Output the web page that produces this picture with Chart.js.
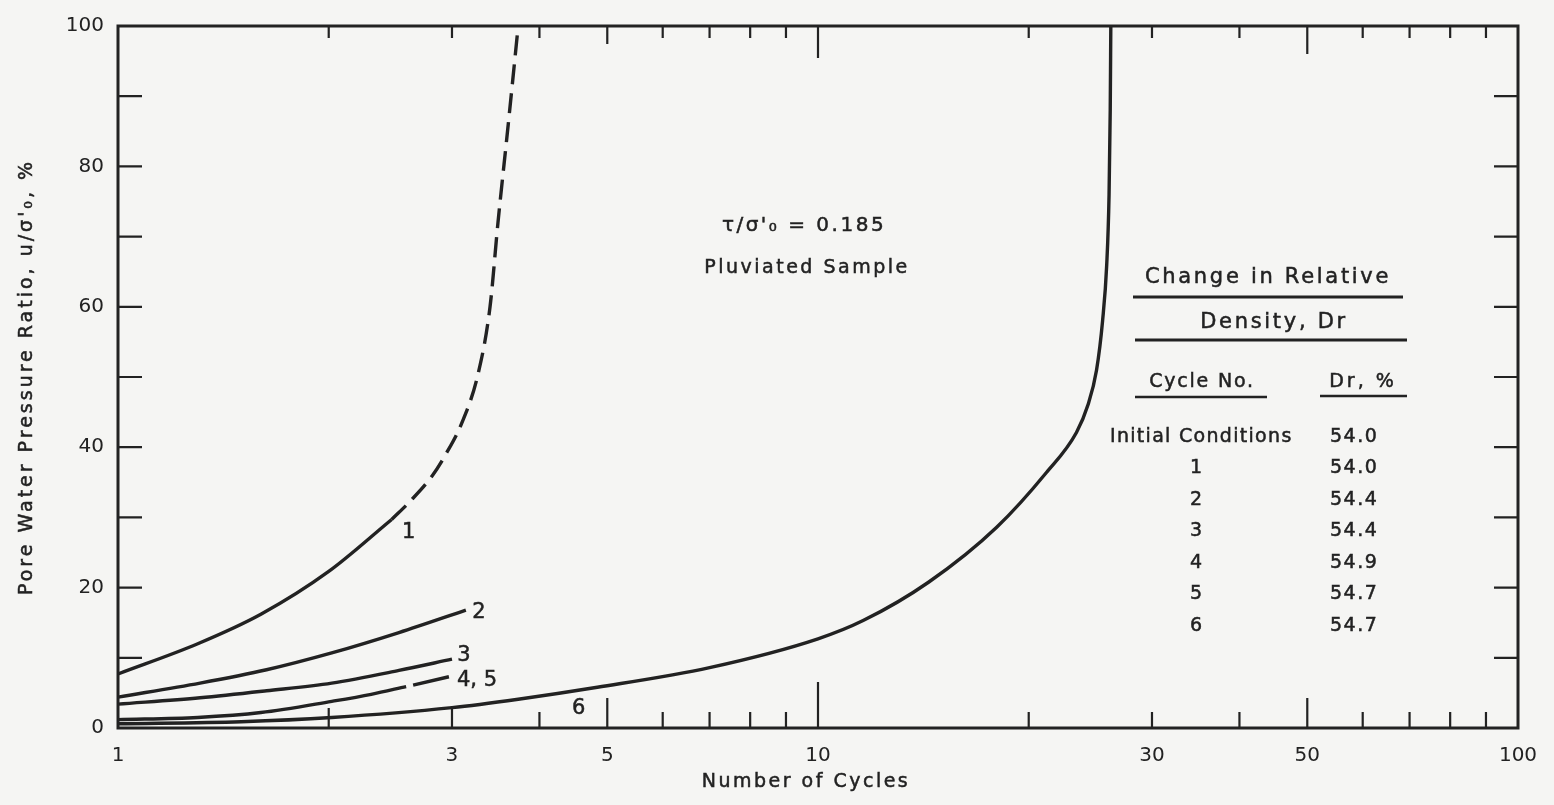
<!DOCTYPE html>
<html>
<head>
<meta charset="utf-8">
<script src="https://cdn.jsdelivr.net/npm/chart.js@4/dist/chart.umd.min.js"></script>
<style>
  html, body { margin: 0; padding: 0; background: #f5f5f3; }
  #wrap { width: 1554px; height: 805px; }
  canvas { display: block; }
</style>
</head>
<body>
<div id="wrap"><canvas id="c" width="1554" height="805"></canvas></div>
<script>
// ---------- data ----------
const xLabelValues = [1, 3, 5, 10, 30, 50, 100];
const xTickValues  = [2, 3, 4, 5, 6, 7, 8, 9, 10, 20, 30, 40, 50, 60, 70, 80, 90];
const yLabelValues = [0, 20, 40, 60, 80, 100];
const yTickValues  = [10, 20, 30, 40, 50, 60, 70, 80, 90];

// Cycle 1 (solid part, then dashed part)
const cycle1SolidX = [1, 1.3, 1.6, 2.0, 2.46];
const cycle1SolidY = [7.7, 12, 16.2, 22.3, 29.7];
const cycle1DashX  = [2.46, 2.62, 2.81, 2.94, 3.1, 3.27, 3.4, 3.49, 3.61, 3.73];
const cycle1DashY  = [29.7, 32.4, 35.9, 39, 43.5, 50.5, 60, 72, 86, 100];
// Cycle 2
const cycle2X = [1, 1.31, 1.63, 2.02, 2.52, 3.14];
const cycle2Y = [4.4, 6.4, 8.3, 10.7, 13.6, 16.8];
// Cycle 3
const cycle3X = [1, 1.31, 1.63, 2.02, 2.52, 3.0];
const cycle3Y = [3.4, 4.3, 5.3, 6.4, 8.2, 9.8];
// Cycles 4,5 (null = break in the drawn line)
const cycle45X = [1, 1.3, 1.6, 2.02, 2.3, 2.58, 2.61, 2.64, 2.97];
const cycle45Y = [1.2, 1.5, 2.2, 3.8, 4.8, 5.9, null, 6.1, 7.3];
// Cycle 6
const cycle6X = [1, 1.5, 2.02, 3, 3.73, 4.84, 7, 10, 11.6, 14.4, 18, 21.2, 23.4, 24.3, 25.0, 25.5, 25.85, 26.05, 26.15, 26.2];
const cycle6Y = [0.6, 0.9, 1.5, 2.9, 4.1, 5.8, 8.6, 12.7, 15.3, 20.8, 28.6, 36.4, 42.1, 46, 51, 58, 66, 76, 88, 100];

// Table: change in relative density
const tableCycles = ['Initial Conditions', '1', '2', '3', '4', '5', '6'];
const tableDr     = ['54.0', '54.0', '54.4', '54.4', '54.9', '54.7', '54.7'];

const pts = (xs, ys) => xs.map((x, i) => ({ x: x, y: ys[i] }));

// ---------- drawing helpers ----------
const INK = '#222222';
const FONT = '"DejaVu Sans", "Liberation Sans", sans-serif';

function drawText(ctx, s, x, y, size, align, spacing, rotate) {
  ctx.save();
  ctx.font = size + 'px ' + FONT;
  ctx.letterSpacing = (spacing || 0) + 'px';
  ctx.fillStyle = INK;
  ctx.strokeStyle = INK;
  ctx.lineWidth = 0.5;
  ctx.textAlign = align || 'center';
  ctx.textBaseline = 'middle';
  if (rotate) {
    ctx.translate(x, y);
    ctx.rotate(-Math.PI / 2);
    ctx.fillText(s, 0, 0);
    ctx.strokeText(s, 0, 0);
  } else {
    ctx.fillText(s, x, y);
    ctx.strokeText(s, x, y);
  }
  ctx.restore();
}
function hline(ctx, x1, x2, y, w) {
  ctx.save();
  ctx.strokeStyle = INK; ctx.lineWidth = w || 2.5;
  ctx.beginPath(); ctx.moveTo(x1, y); ctx.lineTo(x2, y); ctx.stroke();
  ctx.restore();
}

function bottomTickLen(v) {
  if (v === 10) return 46;
  if (v === 5 || v === 50) return 30;
  if (v === 2 || v === 3) return 20;
  return 16;
}
function topTickLen(v) {
  if (v === 10) return 32;
  if (v === 50) return 28;
  if (v === 5) return 18;
  return 12;
}

const framePlugin = {
  id: 'frame',
  afterDraw(chart) {
    const ctx = chart.ctx;
    const a = chart.chartArea;
    const xs = chart.scales.x, ys = chart.scales.y;

    // box
    ctx.save();
    ctx.strokeStyle = INK;
    ctx.lineWidth = 3;
    ctx.strokeRect(a.left, a.top, a.right - a.left, a.bottom - a.top);

    // inward ticks
    ctx.lineWidth = 2.2;
    ctx.beginPath();
    xTickValues.forEach(v => {
      const px = xs.getPixelForValue(v);
      ctx.moveTo(px, a.bottom); ctx.lineTo(px, a.bottom - bottomTickLen(v));
      ctx.moveTo(px, a.top);    ctx.lineTo(px, a.top + topTickLen(v));
    });
    yTickValues.forEach(v => {
      const py = ys.getPixelForValue(v);
      ctx.moveTo(a.left, py);  ctx.lineTo(a.left + 24, py);
      ctx.moveTo(a.right, py); ctx.lineTo(a.right - 24, py);
    });
    ctx.stroke();
    ctx.restore();

    // axis titles
    drawText(ctx, 'Number of Cycles', (a.left + a.right) / 2 - 12, 782, 19, 'center', 2.5);
    drawText(ctx, "Pore Water Pressure Ratio, u/σ'₀, %", 27, (a.top + a.bottom) / 2, 19, 'center', 3, true);

    // annotation
    drawText(ctx, "τ/σ'₀ = 0.185", 804, 226, 20, 'center', 2.5);
    drawText(ctx, 'Pluviated Sample', 807, 268, 19, 'center', 2.5);

    // curve labels
    const P = (x, y) => [xs.getPixelForValue(x), ys.getPixelForValue(y)];
    let p;
    p = P(cycle1SolidX[cycle1SolidX.length - 1], cycle1SolidY[cycle1SolidY.length - 1]);
    drawText(ctx, '1', p[0] + 17, p[1] + 13, 21, 'center', 0);
    p = P(cycle2X[cycle2X.length - 1], cycle2Y[cycle2Y.length - 1]);
    drawText(ctx, '2', p[0] + 13, p[1] + 2, 21, 'center', 0);
    p = P(cycle3X[cycle3X.length - 1], cycle3Y[cycle3Y.length - 1]);
    drawText(ctx, '3', p[0] + 12, p[1] - 4, 21, 'center', 0);
    p = P(cycle45X[cycle45X.length - 1], cycle45Y[cycle45Y.length - 1]);
    drawText(ctx, '4, 5', p[0] + 8, p[1] + 4, 21, 'left', 0);
    p = P(4.55, 2.8);
    drawText(ctx, '6', p[0], p[1], 21, 'center', 0);

    // table
    drawText(ctx, 'Change in Relative', 1268, 278, 21, 'center', 2.7);
    hline(ctx, 1133, 1403, 297, 3);
    drawText(ctx, 'Density, Dr', 1274, 323, 21, 'center', 2.7);
    hline(ctx, 1135, 1407, 340, 3);
    drawText(ctx, 'Cycle No.', 1202, 382, 19, 'center', 1.8);
    hline(ctx, 1135, 1267, 397, 2.5);
    drawText(ctx, 'Dr, %', 1363, 382, 19, 'center', 3);
    hline(ctx, 1320, 1407, 396, 2.5);
    const rowY0 = 437, rowDy = 31.5;
    tableCycles.forEach((c, i) => {
      const y = rowY0 + i * rowDy;
      if (i === 0) drawText(ctx, c, 1110, y, 19, 'left', 1.3);
      else drawText(ctx, c, 1196, y, 19, 'center', 0);
      drawText(ctx, tableDr[i], 1330, y, 19, 'left', 1.5);
    });
  }
};

const lineStyle = {
  showLine: true, pointRadius: 0, borderColor: INK, borderWidth: 3.4,
  cubicInterpolationMode: 'monotone', fill: false, spanGaps: false
};

new Chart(document.getElementById('c'), {
  type: 'scatter',
  data: {
    datasets: [
      Object.assign({ label: 'Cycle 1', data: pts(cycle1SolidX, cycle1SolidY) }, lineStyle),
      Object.assign({ label: 'Cycle 1 (dashed)', data: pts(cycle1DashX, cycle1DashY), borderDash: [20, 9] }, lineStyle),
      Object.assign({ label: 'Cycle 2', data: pts(cycle2X, cycle2Y) }, lineStyle),
      Object.assign({ label: 'Cycle 3', data: pts(cycle3X, cycle3Y) }, lineStyle),
      Object.assign({ label: 'Cycles 4,5', data: pts(cycle45X, cycle45Y) }, lineStyle),
      Object.assign({ label: 'Cycle 6', data: pts(cycle6X, cycle6Y) }, lineStyle)
    ]
  },
  options: {
    responsive: false,
    animation: false,
    devicePixelRatio: 1,
    layout: { padding: { left: 0, top: 22, right: 36, bottom: 0 } },
    plugins: { legend: { display: false }, tooltip: { enabled: false } },
    scales: {
      x: {
        type: 'logarithmic', min: 1, max: 100, position: 'bottom',
        grid: { display: false, drawTicks: false },
        border: { display: false },
        afterBuildTicks: s => { s.ticks = xLabelValues.map(v => ({ value: v })); },
        afterFit: s => { s.height = 77; },
        ticks: {
          autoSkip: false, maxRotation: 0, padding: 16, color: INK,
          font: { family: FONT, size: 20 },
          callback: v => String(v)
        }
      },
      y: {
        type: 'linear', min: 0, max: 100,
        grid: { display: false, drawTicks: false },
        border: { display: false },
        afterBuildTicks: s => { s.ticks = yLabelValues.map(v => ({ value: v })); },
        afterFit: s => { s.width = 118; },
        ticks: {
          padding: 14, color: INK,
          font: { family: FONT, size: 20 },
          callback: v => String(v)
        }
      }
    }
  },
  plugins: [framePlugin]
});
</script>
</body>
</html>
